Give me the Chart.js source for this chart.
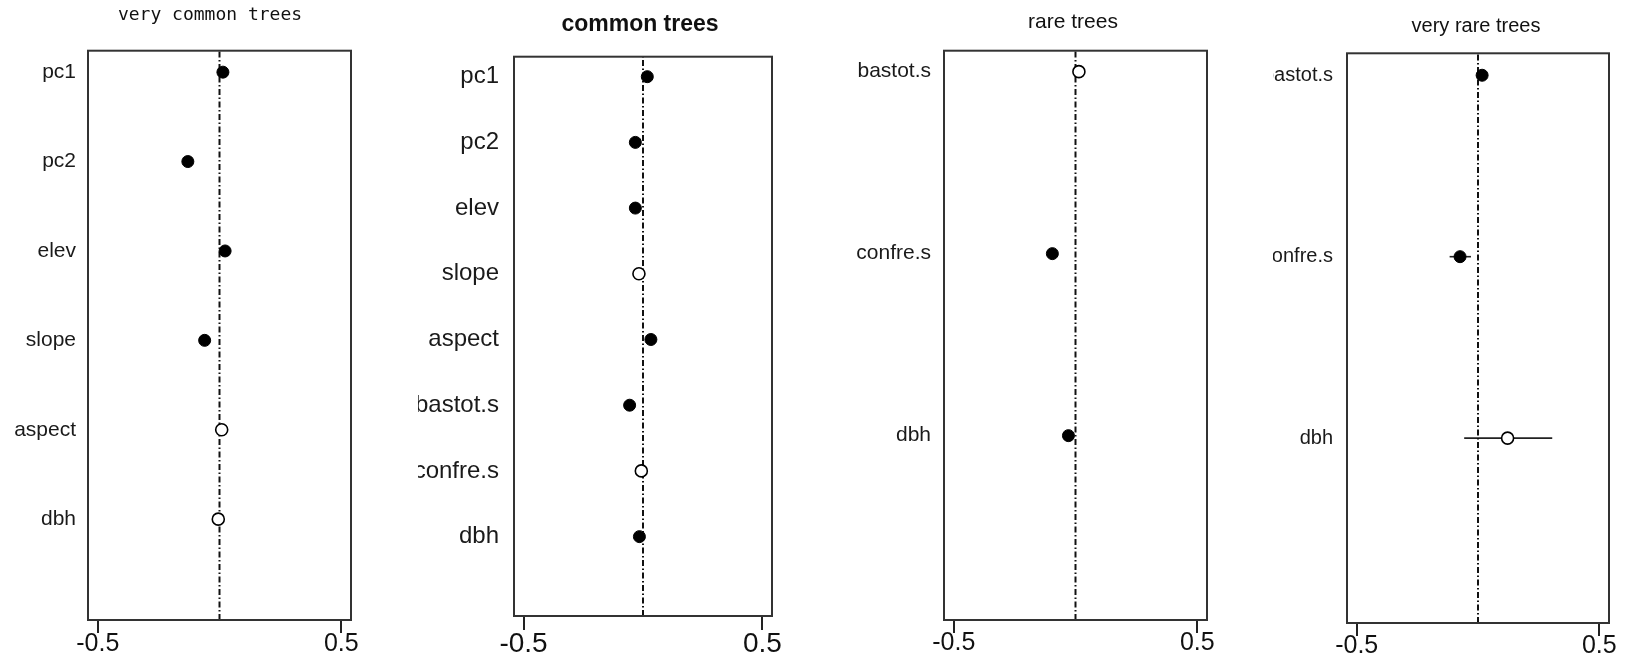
<!DOCTYPE html>
<html>
<head>
<meta charset="utf-8">
<script src="https://cdn.jsdelivr.net/npm/chart.js@4.4.1/dist/chart.umd.min.js"></script>
<style>
html,body{margin:0;padding:0;background:#fff;width:1633px;height:659px;overflow:hidden;position:relative;}
.p{position:absolute;top:0;height:659px;}
canvas{display:block;}
</style>
</head>
<body>
<div class="p" style="left:0px;width:420px"><canvas id="c1"></canvas></div>
<div class="p" style="left:418px;width:444px"><canvas id="c2"></canvas></div>
<div class="p" style="left:840px;width:466px"><canvas id="c3"></canvas></div>
<div class="p" style="left:1273px;width:406px"><canvas id="c4"></canvas></div>
<script>
// ---------- data ----------
const xTicks = [-0.5, 0.5];
const xTickLabels = ['-0.5', '0.5'];

// very common trees
const vcLabels = ['pc1', 'pc2', 'elev', 'slope', 'aspect', 'dbh'];
const vcEst = [0.014, -0.130, 0.023, -0.061, 0.009, -0.005];
const vcLo  = [0.004, -0.140, 0.013, -0.071, -0.001, -0.015];
const vcHi  = [0.024, -0.120, 0.033, -0.051, 0.019, 0.005];
const vcSig = [true, true, true, true, false, false];

// common trees
const cLabels = ['pc1', 'pc2', 'elev', 'slope', 'aspect', 'bastot.s', 'confre.s', 'dbh'];
const cEst = [0.018, -0.032, -0.032, -0.017, 0.033, -0.056, -0.007, -0.015];
const cLo  = [0.008, -0.042, -0.042, -0.027, 0.023, -0.066, -0.017, -0.025];
const cHi  = [0.028, -0.022, -0.022, -0.007, 0.043, -0.046, 0.003, -0.005];
const cSig = [true, true, true, false, true, true, false, true];

// rare trees
const rLabels = ['bastot.s', 'confre.s', 'dbh'];
const rEst = [0.014, -0.095, -0.029];
const rLo  = [0.004, -0.105, -0.039];
const rHi  = [0.024, -0.085, -0.019];
const rSig = [false, true, true];

// very rare trees
const vrLabels = ['bastot.s', 'confre.s', 'dbh'];
const vrEst = [0.017, -0.074, 0.122];
const vrLo  = [0.007, -0.117, -0.057];
const vrHi  = [0.027, -0.029, 0.306];
const vrSig = [true, true, false];

// ---------- drawing ----------
const FONT = "'Liberation Sans', Arial, sans-serif";
Chart.defaults.color = '#111';

function makePanel(id, labels, est, lo, hi, sig, lay) {
  const n = labels.length;
  const pos = labels.map((_, i) => n - i);
  const pts = est.map((v, i) => ({x: v, y: pos[i]}));

  const deco = {
    id: 'deco' + id,
    beforeDatasetsDraw(chart) {
      const {ctx, scales: {x, y}} = chart;
      ctx.save();
      ctx.strokeStyle = '#222';
      ctx.lineWidth = 1.6;
      for (let i = 0; i < n; i++) {
        const py = y.getPixelForValue(pos[i]);
        ctx.beginPath();
        ctx.moveTo(x.getPixelForValue(lo[i]), py);
        ctx.lineTo(x.getPixelForValue(hi[i]), py);
        ctx.stroke();
      }
      ctx.restore();
    },
    afterDatasetsDraw(chart) {
      const {ctx, chartArea: a} = chart;
      ctx.save();
      ctx.strokeStyle = '#333';
      ctx.lineWidth = 2;
      ctx.strokeRect(a.left, a.top, a.right - a.left, a.bottom - a.top);
      ctx.restore();
    }
  };

  return new Chart(document.getElementById(id), {
    type: 'scatter',
    data: {
      datasets: [
        {
          data: pts,
          pointStyle: 'circle',
          pointRadius: 6,
          pointBackgroundColor: sig.map(s => s ? '#000' : '#fff'),
          pointBorderColor: '#000',
          pointBorderWidth: sig.map(s => s ? 1 : 1.6),
          showLine: false
        },
        {
          type: 'line',
          data: [{x: 0, y: lay.yMin}, {x: 0, y: lay.yMax}],
          borderColor: '#111',
          borderWidth: 2,
          borderDash: [6, 2.5, 1.5, 2.5],
          pointRadius: 0,
          fill: false
        }
      ]
    },
    options: {
      responsive: true,
      maintainAspectRatio: false,
      animation: false,
      events: [],
      layout: {padding: 0},
      plugins: {
        legend: {display: false},
        tooltip: {enabled: false},
        title: {
          display: true,
          text: lay.title,
          fullSize: true,
          color: '#111',
          font: lay.titleFont,
          padding: {top: lay.tPadTop, bottom: lay.tPadBottom}
        }
      },
      scales: {
        x: {
          type: 'linear',
          position: 'bottom',
          min: -0.54,
          max: 0.54,
          afterBuildTicks: s => { s.ticks = xTicks.map(v => ({value: v})); },
          afterFit: s => { s.height = lay.xH; },
          grid: {display: true, drawOnChartArea: false, drawTicks: true, tickLength: lay.tickLen, lineWidth: 2, color: '#222'},
          border: {display: false},
          ticks: {
            font: {family: FONT, size: lay.xFont, lineHeight: 0.8},
            color: '#111',
            padding: lay.xPad,
            maxRotation: 0,
            autoSkip: false,
            callback: v => xTickLabels[xTicks.indexOf(v)]
          }
        },
        y: {
          type: 'linear',
          position: 'left',
          min: lay.yMin,
          max: lay.yMax,
          afterBuildTicks: s => { s.ticks = pos.map(v => ({value: v})); },
          afterFit: s => { s.width = lay.yW; },
          grid: {display: false, drawTicks: false, tickLength: 0},
          border: {display: false},
          ticks: {
            font: {family: FONT, size: lay.yFont},
            color: '#1a1a1a',
            padding: lay.yPad,
            autoSkip: false,
            callback: v => labels[n - v]
          }
        },
        yR: {
          type: 'linear',
          position: 'right',
          display: true,
          afterFit: s => { s.width = lay.y2W; },
          grid: {display: false, drawTicks: false, tickLength: 0},
          border: {display: false},
          ticks: {display: false}
        }
      }
    },
    plugins: [deco]
  });
}

makePanel('c1', vcLabels, vcEst, vcLo, vcHi, vcSig, {
  title: 'very common trees',
  titleFont: {family: "'DejaVu Sans Mono', 'Liberation Mono', monospace", size: 18, weight: 'normal', lineHeight: 1.2},
  tPadTop: 4.2, tPadBottom: 24.9,
  yW: 88, y2W: 69, yPad: 12, yFont: 21,
  xH: 39, tickLen: 13, xFont: 25, xPad: 1,
  yMin: -0.128, yMax: 6.24
});

makePanel('c2', cLabels, cEst, cLo, cHi, cSig, {
  title: 'common trees',
  titleFont: {family: FONT, size: 23, weight: 'bold', lineHeight: 1.2},
  tPadTop: 11.2, tPadBottom: 17.9,
  yW: 96, y2W: 90, yPad: 15, yFont: 24,
  xH: 43, tickLen: 14, xFont: 28, xPad: 2.8,
  yMin: -0.208, yMax: 8.304
});

makePanel('c3', rLabels, rEst, rLo, rHi, rSig, {
  title: 'rare trees',
  titleFont: {family: FONT, size: 21, weight: 'normal', lineHeight: 1.2},
  tPadTop: 10.1, tPadBottom: 15.4,
  yW: 104, y2W: 99, yPad: 13, yFont: 21,
  xH: 39, tickLen: 13, xFont: 25, xPad: 0,
  yMin: -0.013, yMax: 3.115
});

makePanel('c4', vrLabels, vrEst, vrLo, vrHi, vrSig, {
  title: 'very rare trees',
  titleFont: {family: FONT, size: 20, weight: 'normal', lineHeight: 1.2},
  tPadTop: 14, tPadBottom: 15.3,
  yW: 74, y2W: 70, yPad: 14, yFont: 20,
  xH: 36, tickLen: 13, xFont: 25, xPad: 0,
  yMin: -0.019, yMax: 3.121
});
</script>
</body>
</html>
